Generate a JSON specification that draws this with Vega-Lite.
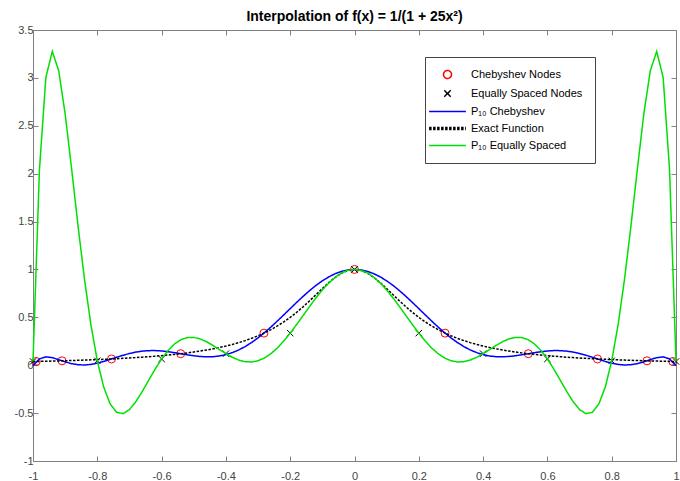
{
  "$schema": "https://vega.github.io/schema/vega-lite/v6.json",
  "autosize": {"type": "none"},
  "padding": {"left": 33, "top": 30, "right": 4, "bottom": 20},
  "width": 643,
  "height": 431,
  "background": "white",
  "title": {"text": "Interpolation of f(x) = 1/(1 + 25x²)", "font": "Liberation Sans", "fontSize": 14, "fontWeight": "bold", "color": "#000000", "anchor": "middle", "offset": 0},
  "config": {
    "view": {"stroke": null},
    "axis": {"grid": false, "domainColor": "#808080", "tickColor": "#808080", "tickSize": -5, "labelFont": "Liberation Sans", "labelFontSize": 11, "labelColor": "#444444", "labelFlush": false, "labelOverlap": false, "labelBound": false, "title": null},
    "legend": {"symbolSize": 64, "symbolStrokeWidth": 1.5, "labelFont": "Liberation Sans", "labelFontSize": 11, "labelColor": "#000000", "strokeColor": "#444444", "fillColor": "white", "padding": 12, "rowPadding": 5, "symbolOffset": 5, "labelOffset": 18}
  },
  "datasets": {
    "curves": [
      {"x": -1.00, "P₁₀ Chebyshev": -0.00533, "Exact Function": 0.03846, "P₁₀ Equally Spaced": 0.03923},
      {"x": -0.98, "P₁₀ Chebyshev": 0.06637, "Exact Function": 0.03998, "P₁₀ Equally Spaced": 2.03962},
      {"x": -0.96, "P₁₀ Chebyshev": 0.08705, "Exact Function": 0.04160, "P₁₀ Equally Spaced": 3.00478},
      {"x": -0.94, "P₁₀ Chebyshev": 0.07919, "Exact Function": 0.04331, "P₁₀ Equally Spaced": 3.27703},
      {"x": -0.92, "P₁₀ Chebyshev": 0.05802, "Exact Function": 0.04513, "P₁₀ Equally Spaced": 3.07355},
      {"x": -0.90, "P₁₀ Chebyshev": 0.03518, "Exact Function": 0.04706, "P₁₀ Equally Spaced": 2.62498},
      {"x": -0.88, "P₁₀ Chebyshev": 0.01623, "Exact Function": 0.04912, "P₁₀ Equally Spaced": 2.05341},
      {"x": -0.86, "P₁₀ Chebyshev": 0.00530, "Exact Function": 0.05131, "P₁₀ Equally Spaced": 1.45761},
      {"x": -0.84, "P₁₀ Chebyshev": 0.00236, "Exact Function": 0.05365, "P₁₀ Equally Spaced": 0.90191},
      {"x": -0.82, "P₁₀ Chebyshev": 0.00829, "Exact Function": 0.05615, "P₁₀ Equally Spaced": 0.42479},
      {"x": -0.80, "P₁₀ Chebyshev": 0.02132, "Exact Function": 0.05882, "P₁₀ Equally Spaced": 0.04611},
      {"x": -0.78, "P₁₀ Chebyshev": 0.03953, "Exact Function": 0.06169, "P₁₀ Equally Spaced": -0.22877},
      {"x": -0.76, "P₁₀ Chebyshev": 0.06075, "Exact Function": 0.06477, "P₁₀ Equally Spaced": -0.40433},
      {"x": -0.74, "P₁₀ Chebyshev": 0.08287, "Exact Function": 0.06807, "P₁₀ Equally Spaced": -0.49170},
      {"x": -0.72, "P₁₀ Chebyshev": 0.10396, "Exact Function": 0.07163, "P₁₀ Equally Spaced": -0.50575},
      {"x": -0.70, "P₁₀ Chebyshev": 0.12242, "Exact Function": 0.07547, "P₁₀ Equally Spaced": -0.46306},
      {"x": -0.68, "P₁₀ Chebyshev": 0.13706, "Exact Function": 0.07962, "P₁₀ Equally Spaced": -0.38038},
      {"x": -0.66, "P₁₀ Chebyshev": 0.14713, "Exact Function": 0.08410, "P₁₀ Equally Spaced": -0.27342},
      {"x": -0.64, "P₁₀ Chebyshev": 0.15231, "Exact Function": 0.08897, "P₁₀ Equally Spaced": -0.15614},
      {"x": -0.62, "P₁₀ Chebyshev": 0.15271, "Exact Function": 0.09425, "P₁₀ Equally Spaced": -0.04043},
      {"x": -0.60, "P₁₀ Chebyshev": 0.14878, "Exact Function": 0.10000, "P₁₀ Equally Spaced": 0.06545},
      {"x": -0.58, "P₁₀ Chebyshev": 0.14131, "Exact Function": 0.10627, "P₁₀ Equally Spaced": 0.15410},
      {"x": -0.56, "P₁₀ Chebyshev": 0.13132, "Exact Function": 0.11312, "P₁₀ Equally Spaced": 0.22178},
      {"x": -0.54, "P₁₀ Chebyshev": 0.12001, "Exact Function": 0.12063, "P₁₀ Equally Spaced": 0.26665},
      {"x": -0.52, "P₁₀ Chebyshev": 0.10868, "Exact Function": 0.12887, "P₁₀ Equally Spaced": 0.28883},
      {"x": -0.50, "P₁₀ Chebyshev": 0.09867, "Exact Function": 0.13793, "P₁₀ Equally Spaced": 0.29053},
      {"x": -0.48, "P₁₀ Chebyshev": 0.09131, "Exact Function": 0.14793, "P₁₀ Equally Spaced": 0.27444},
      {"x": -0.46, "P₁₀ Chebyshev": 0.08781, "Exact Function": 0.15898, "P₁₀ Equally Spaced": 0.24463},
      {"x": -0.44, "P₁₀ Chebyshev": 0.08927, "Exact Function": 0.17123, "P₁₀ Equally Spaced": 0.20595},
      {"x": -0.42, "P₁₀ Chebyshev": 0.09659, "Exact Function": 0.18484, "P₁₀ Equally Spaced": 0.16293},
      {"x": -0.40, "P₁₀ Chebyshev": 0.11049, "Exact Function": 0.20000, "P₁₀ Equally Spaced": 0.12038},
      {"x": -0.38, "P₁₀ Chebyshev": 0.13141, "Exact Function": 0.21692, "P₁₀ Equally Spaced": 0.08270},
      {"x": -0.36, "P₁₀ Chebyshev": 0.15957, "Exact Function": 0.23585, "P₁₀ Equally Spaced": 0.05375},
      {"x": -0.34, "P₁₀ Chebyshev": 0.19493, "Exact Function": 0.25707, "P₁₀ Equally Spaced": 0.03668},
      {"x": -0.32, "P₁₀ Chebyshev": 0.23718, "Exact Function": 0.28090, "P₁₀ Equally Spaced": 0.03383},
      {"x": -0.30, "P₁₀ Chebyshev": 0.28578, "Exact Function": 0.30769, "P₁₀ Equally Spaced": 0.04665},
      {"x": -0.28, "P₁₀ Chebyshev": 0.33998, "Exact Function": 0.33784, "P₁₀ Equally Spaced": 0.07568},
      {"x": -0.26, "P₁₀ Chebyshev": 0.39880, "Exact Function": 0.37175, "P₁₀ Equally Spaced": 0.12057},
      {"x": -0.24, "P₁₀ Chebyshev": 0.46111, "Exact Function": 0.40984, "P₁₀ Equally Spaced": 0.18016},
      {"x": -0.22, "P₁₀ Chebyshev": 0.52564, "Exact Function": 0.45249, "P₁₀ Equally Spaced": 0.25251},
      {"x": -0.20, "P₁₀ Chebyshev": 0.59104, "Exact Function": 0.50000, "P₁₀ Equally Spaced": 0.33508},
      {"x": -0.18, "P₁₀ Chebyshev": 0.65586, "Exact Function": 0.55249, "P₁₀ Equally Spaced": 0.42482},
      {"x": -0.16, "P₁₀ Chebyshev": 0.71869, "Exact Function": 0.60976, "P₁₀ Equally Spaced": 0.51833},
      {"x": -0.14, "P₁₀ Chebyshev": 0.77808, "Exact Function": 0.67114, "P₁₀ Equally Spaced": 0.61201},
      {"x": -0.12, "P₁₀ Chebyshev": 0.83269, "Exact Function": 0.73529, "P₁₀ Equally Spaced": 0.70224},
      {"x": -0.10, "P₁₀ Chebyshev": 0.88125, "Exact Function": 0.80000, "P₁₀ Equally Spaced": 0.78552},
      {"x": -0.08, "P₁₀ Chebyshev": 0.92263, "Exact Function": 0.86207, "P₁₀ Equally Spaced": 0.85859},
      {"x": -0.06, "P₁₀ Chebyshev": 0.95588, "Exact Function": 0.91743, "P₁₀ Equally Spaced": 0.91860},
      {"x": -0.04, "P₁₀ Chebyshev": 0.98019, "Exact Function": 0.96154, "P₁₀ Equally Spaced": 0.96323},
      {"x": -0.02, "P₁₀ Chebyshev": 0.99502, "Exact Function": 0.99010, "P₁₀ Equally Spaced": 0.99072},
      {"x": 0.00, "P₁₀ Chebyshev": 1.00000, "Exact Function": 1.00000, "P₁₀ Equally Spaced": 1.00000},
      {"x": 0.02, "P₁₀ Chebyshev": 0.99502, "Exact Function": 0.99010, "P₁₀ Equally Spaced": 0.99072},
      {"x": 0.04, "P₁₀ Chebyshev": 0.98019, "Exact Function": 0.96154, "P₁₀ Equally Spaced": 0.96323},
      {"x": 0.06, "P₁₀ Chebyshev": 0.95588, "Exact Function": 0.91743, "P₁₀ Equally Spaced": 0.91860},
      {"x": 0.08, "P₁₀ Chebyshev": 0.92263, "Exact Function": 0.86207, "P₁₀ Equally Spaced": 0.85859},
      {"x": 0.10, "P₁₀ Chebyshev": 0.88125, "Exact Function": 0.80000, "P₁₀ Equally Spaced": 0.78552},
      {"x": 0.12, "P₁₀ Chebyshev": 0.83269, "Exact Function": 0.73529, "P₁₀ Equally Spaced": 0.70224},
      {"x": 0.14, "P₁₀ Chebyshev": 0.77808, "Exact Function": 0.67114, "P₁₀ Equally Spaced": 0.61201},
      {"x": 0.16, "P₁₀ Chebyshev": 0.71869, "Exact Function": 0.60976, "P₁₀ Equally Spaced": 0.51833},
      {"x": 0.18, "P₁₀ Chebyshev": 0.65586, "Exact Function": 0.55249, "P₁₀ Equally Spaced": 0.42482},
      {"x": 0.20, "P₁₀ Chebyshev": 0.59104, "Exact Function": 0.50000, "P₁₀ Equally Spaced": 0.33508},
      {"x": 0.22, "P₁₀ Chebyshev": 0.52564, "Exact Function": 0.45249, "P₁₀ Equally Spaced": 0.25251},
      {"x": 0.24, "P₁₀ Chebyshev": 0.46111, "Exact Function": 0.40984, "P₁₀ Equally Spaced": 0.18016},
      {"x": 0.26, "P₁₀ Chebyshev": 0.39880, "Exact Function": 0.37175, "P₁₀ Equally Spaced": 0.12057},
      {"x": 0.28, "P₁₀ Chebyshev": 0.33998, "Exact Function": 0.33784, "P₁₀ Equally Spaced": 0.07568},
      {"x": 0.30, "P₁₀ Chebyshev": 0.28578, "Exact Function": 0.30769, "P₁₀ Equally Spaced": 0.04665},
      {"x": 0.32, "P₁₀ Chebyshev": 0.23718, "Exact Function": 0.28090, "P₁₀ Equally Spaced": 0.03383},
      {"x": 0.34, "P₁₀ Chebyshev": 0.19493, "Exact Function": 0.25707, "P₁₀ Equally Spaced": 0.03668},
      {"x": 0.36, "P₁₀ Chebyshev": 0.15957, "Exact Function": 0.23585, "P₁₀ Equally Spaced": 0.05375},
      {"x": 0.38, "P₁₀ Chebyshev": 0.13141, "Exact Function": 0.21692, "P₁₀ Equally Spaced": 0.08270},
      {"x": 0.40, "P₁₀ Chebyshev": 0.11049, "Exact Function": 0.20000, "P₁₀ Equally Spaced": 0.12038},
      {"x": 0.42, "P₁₀ Chebyshev": 0.09659, "Exact Function": 0.18484, "P₁₀ Equally Spaced": 0.16293},
      {"x": 0.44, "P₁₀ Chebyshev": 0.08927, "Exact Function": 0.17123, "P₁₀ Equally Spaced": 0.20595},
      {"x": 0.46, "P₁₀ Chebyshev": 0.08781, "Exact Function": 0.15898, "P₁₀ Equally Spaced": 0.24463},
      {"x": 0.48, "P₁₀ Chebyshev": 0.09131, "Exact Function": 0.14793, "P₁₀ Equally Spaced": 0.27444},
      {"x": 0.50, "P₁₀ Chebyshev": 0.09867, "Exact Function": 0.13793, "P₁₀ Equally Spaced": 0.29053},
      {"x": 0.52, "P₁₀ Chebyshev": 0.10868, "Exact Function": 0.12887, "P₁₀ Equally Spaced": 0.28883},
      {"x": 0.54, "P₁₀ Chebyshev": 0.12001, "Exact Function": 0.12063, "P₁₀ Equally Spaced": 0.26665},
      {"x": 0.56, "P₁₀ Chebyshev": 0.13132, "Exact Function": 0.11312, "P₁₀ Equally Spaced": 0.22178},
      {"x": 0.58, "P₁₀ Chebyshev": 0.14131, "Exact Function": 0.10627, "P₁₀ Equally Spaced": 0.15410},
      {"x": 0.60, "P₁₀ Chebyshev": 0.14878, "Exact Function": 0.10000, "P₁₀ Equally Spaced": 0.06545},
      {"x": 0.62, "P₁₀ Chebyshev": 0.15271, "Exact Function": 0.09425, "P₁₀ Equally Spaced": -0.04043},
      {"x": 0.64, "P₁₀ Chebyshev": 0.15231, "Exact Function": 0.08897, "P₁₀ Equally Spaced": -0.15614},
      {"x": 0.66, "P₁₀ Chebyshev": 0.14713, "Exact Function": 0.08410, "P₁₀ Equally Spaced": -0.27342},
      {"x": 0.68, "P₁₀ Chebyshev": 0.13706, "Exact Function": 0.07962, "P₁₀ Equally Spaced": -0.38038},
      {"x": 0.70, "P₁₀ Chebyshev": 0.12242, "Exact Function": 0.07547, "P₁₀ Equally Spaced": -0.46306},
      {"x": 0.72, "P₁₀ Chebyshev": 0.10396, "Exact Function": 0.07163, "P₁₀ Equally Spaced": -0.50575},
      {"x": 0.74, "P₁₀ Chebyshev": 0.08287, "Exact Function": 0.06807, "P₁₀ Equally Spaced": -0.49170},
      {"x": 0.76, "P₁₀ Chebyshev": 0.06075, "Exact Function": 0.06477, "P₁₀ Equally Spaced": -0.40433},
      {"x": 0.78, "P₁₀ Chebyshev": 0.03953, "Exact Function": 0.06169, "P₁₀ Equally Spaced": -0.22877},
      {"x": 0.80, "P₁₀ Chebyshev": 0.02132, "Exact Function": 0.05882, "P₁₀ Equally Spaced": 0.04611},
      {"x": 0.82, "P₁₀ Chebyshev": 0.00829, "Exact Function": 0.05615, "P₁₀ Equally Spaced": 0.42479},
      {"x": 0.84, "P₁₀ Chebyshev": 0.00236, "Exact Function": 0.05365, "P₁₀ Equally Spaced": 0.90191},
      {"x": 0.86, "P₁₀ Chebyshev": 0.00530, "Exact Function": 0.05131, "P₁₀ Equally Spaced": 1.45761},
      {"x": 0.88, "P₁₀ Chebyshev": 0.01623, "Exact Function": 0.04912, "P₁₀ Equally Spaced": 2.05341},
      {"x": 0.90, "P₁₀ Chebyshev": 0.03518, "Exact Function": 0.04706, "P₁₀ Equally Spaced": 2.62498},
      {"x": 0.92, "P₁₀ Chebyshev": 0.05802, "Exact Function": 0.04513, "P₁₀ Equally Spaced": 3.07355},
      {"x": 0.94, "P₁₀ Chebyshev": 0.07919, "Exact Function": 0.04331, "P₁₀ Equally Spaced": 3.27703},
      {"x": 0.96, "P₁₀ Chebyshev": 0.08705, "Exact Function": 0.04160, "P₁₀ Equally Spaced": 3.00478},
      {"x": 0.98, "P₁₀ Chebyshev": 0.06637, "Exact Function": 0.03998, "P₁₀ Equally Spaced": 2.03962},
      {"x": 1.00, "P₁₀ Chebyshev": -0.00533, "Exact Function": 0.03846, "P₁₀ Equally Spaced": 0.03923}
    ],
    "nodes": [
      {"series": "Chebyshev Nodes", "x": -0.989821, "y": 0.039225},
      {"series": "Chebyshev Nodes", "x": -0.909632, "y": 0.046113},
      {"series": "Chebyshev Nodes", "x": -0.755750, "y": 0.065449},
      {"series": "Chebyshev Nodes", "x": -0.540641, "y": 0.120376},
      {"series": "Chebyshev Nodes", "x": -0.281733, "y": 0.335084},
      {"series": "Chebyshev Nodes", "x": 0.0, "y": 1.0},
      {"series": "Chebyshev Nodes", "x": 0.281733, "y": 0.335084},
      {"series": "Chebyshev Nodes", "x": 0.540641, "y": 0.120376},
      {"series": "Chebyshev Nodes", "x": 0.755750, "y": 0.065449},
      {"series": "Chebyshev Nodes", "x": 0.909632, "y": 0.046113},
      {"series": "Chebyshev Nodes", "x": 0.989821, "y": 0.039225},
      {"series": "Equally Spaced Nodes", "x": -1.0, "y": 0.039225},
      {"series": "Equally Spaced Nodes", "x": -0.8, "y": 0.046113},
      {"series": "Equally Spaced Nodes", "x": -0.6, "y": 0.065449},
      {"series": "Equally Spaced Nodes", "x": -0.4, "y": 0.120376},
      {"series": "Equally Spaced Nodes", "x": -0.2, "y": 0.335084},
      {"series": "Equally Spaced Nodes", "x": 0.0, "y": 1.0},
      {"series": "Equally Spaced Nodes", "x": 0.2, "y": 0.335084},
      {"series": "Equally Spaced Nodes", "x": 0.4, "y": 0.120376},
      {"series": "Equally Spaced Nodes", "x": 0.6, "y": 0.065449},
      {"series": "Equally Spaced Nodes", "x": 0.8, "y": 0.046113},
      {"series": "Equally Spaced Nodes", "x": 1.0, "y": 0.039225}
    ]
  },
  "layer": [
    {
      "data": {"name": "nodes"},
      "mark": {"type": "point", "filled": false, "size": 64, "strokeWidth": 1, "opacity": 1},
      "encoding": {
        "x": {"field": "x", "type": "quantitative", "scale": {"domain": [-1, 1], "nice": false, "zero": false}, "axis": {"orient": "top", "labels": false, "values": [-1, -0.8, -0.6, -0.4, -0.2, 0, 0.2, 0.4, 0.6, 0.8, 1]}},
        "y": {"field": "y", "type": "quantitative", "scale": {"domain": [-1, 3.5], "nice": false, "zero": false}, "axis": {"orient": "right", "labels": false, "values": [-1, -0.5, 0, 0.5, 1, 1.5, 2, 2.5, 3, 3.5]}},
        "stroke": {"field": "series", "type": "nominal",
          "scale": {"domain": ["Chebyshev Nodes", "Equally Spaced Nodes", "P₁₀ Chebyshev", "Exact Function", "P₁₀ Equally Spaced"], "range": ["#ff0000", "#000000", "#0000ff", "#000000", "#00e000"]},
          "legend": {"title": null, "orient": "none", "legendX": 392, "legendY": 27}},
        "shape": {"field": "series", "type": "nominal",
          "scale": {"domain": ["Chebyshev Nodes", "Equally Spaced Nodes", "P₁₀ Chebyshev", "Exact Function", "P₁₀ Equally Spaced"], "range": ["circle", "M-0.8,-0.8L0.8,0.8M-0.8,0.8L0.8,-0.8", "M-4.6,0L4.6,0", "M-4.6,-0.25L4.6,-0.25M-4.6,0L4.6,0M-4.6,0.25L4.6,0.25", "M-4.6,0L4.6,0"]},
          "legend": {"title": null, "orient": "none", "legendX": 392, "legendY": 27}}
      }
    },
    {
      "data": {"name": "curves"},
      "transform": [{"fold": ["P₁₀ Chebyshev", "Exact Function", "P₁₀ Equally Spaced"], "as": ["series", "y"]}],
      "mark": {"type": "line", "strokeWidth": 1.5},
      "encoding": {
        "x": {"field": "x", "type": "quantitative", "axis": {"orient": "bottom", "values": [-1, -0.8, -0.6, -0.4, -0.2, 0, 0.2, 0.4, 0.6, 0.8, 1], "labelPadding": 14, "labelExpr": "replace(format(datum.value, '~g'), '−', '-')"}},
        "y": {"field": "y", "type": "quantitative", "axis": {"orient": "left", "values": [-1, -0.5, 0, 0.5, 1, 1.5, 2, 2.5, 3, 3.5], "labelPadding": 5, "labelExpr": "replace(format(datum.value, '~g'), '−', '-')"}},
        "stroke": {"field": "series", "type": "nominal",
          "scale": {"domain": ["Chebyshev Nodes", "Equally Spaced Nodes", "P₁₀ Chebyshev", "Exact Function", "P₁₀ Equally Spaced"], "range": ["#ff0000", "#000000", "#0000ff", "#000000", "#00e000"]},
          "legend": {"title": null, "orient": "none", "legendX": 392, "legendY": 27}},
        "strokeDash": {"field": "series", "type": "nominal",
          "scale": {"domain": ["Chebyshev Nodes", "Equally Spaced Nodes", "P₁₀ Chebyshev", "Exact Function", "P₁₀ Equally Spaced"], "range": [[1, 0], [1, 0], [1, 0], [2.5, 1.5], [1, 0]]},
          "legend": {"title": null, "orient": "none", "legendX": 392, "legendY": 27}},
        "strokeWidth": {"condition": {"test": "datum.series === 'Exact Function'", "value": 3}, "value": 1.5}
      }
    }
  ],
  "resolve": {"axis": {"x": "independent", "y": "independent"}}
}
